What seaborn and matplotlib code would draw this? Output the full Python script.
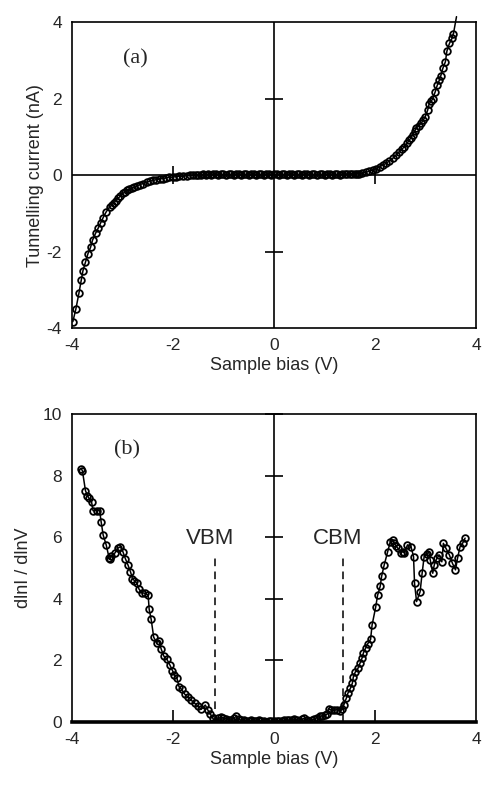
import numpy as np
import pandas as pd
import seaborn as sns
import matplotlib.pyplot as plt
from matplotlib.markers import TICKUP

sns.set_style('ticks')
plt.rcParams['font.family'] = ['Liberation Sans', 'DejaVu Sans']
plt.rcParams['axes.unicode_minus'] = False

# (a) I-V curve
iv_bias = [-3.98, -3.92, -3.86, -3.81, -3.78, -3.73, -3.68, -3.63, -3.59, -3.53,
           -3.48, -3.43, -3.38, -3.32, -3.25, -3.21, -3.17, -3.13, -3.09, -3.04,
           -2.99, -2.94, -2.90, -2.86, -2.80, -2.76, -2.72, -2.66, -2.59, -2.52,
           -2.46, -2.40, -2.33, -2.26, -2.20, -2.13, -2.07, -2.00, -1.93, -1.87,
           -1.80, -1.73, -1.67, -1.60, -1.55, -1.50, -1.45, -1.40, -1.35, -1.30,
           -1.25, -1.20, -1.15, -1.10, -1.05, -1.00, -0.95, -0.90, -0.85, -0.80,
           -0.75, -0.70, -0.65, -0.60, -0.55, -0.50, -0.45, -0.40, -0.35, -0.30,
           -0.25, -0.20, -0.15, -0.10, -0.05, 0.00, 0.05, 0.10, 0.15, 0.20,
           0.25, 0.30, 0.35, 0.40, 0.45, 0.50, 0.55, 0.60, 0.65, 0.70,
           0.75, 0.80, 0.85, 0.90, 0.95, 1.00, 1.05, 1.10, 1.15, 1.20,
           1.25, 1.30, 1.35, 1.40, 1.45, 1.50, 1.55, 1.60, 1.65, 1.69,
           1.75, 1.82, 1.88, 1.95, 2.02, 2.09, 2.15, 2.22, 2.28, 2.35,
           2.41, 2.48, 2.53, 2.58, 2.63, 2.68, 2.71, 2.74, 2.78, 2.81,
           2.86, 2.91, 2.95, 2.99, 3.04, 3.07, 3.11, 3.14, 3.19, 3.23,
           3.27, 3.30, 3.34, 3.39, 3.42, 3.47, 3.52, 3.55]
iv_current = [-3.83, -3.50, -3.09, -2.73, -2.50, -2.27, -2.05, -1.89, -1.70, -1.52,
              -1.39, -1.25, -1.11, -0.96, -0.83, -0.78, -0.72, -0.67, -0.61, -0.55,
              -0.48, -0.43, -0.40, -0.37, -0.33, -0.31, -0.29, -0.25, -0.22, -0.19,
              -0.16, -0.14, -0.12, -0.10, -0.09, -0.07, -0.06, -0.05, -0.04, -0.03,
              -0.03, -0.02, -0.01, 0.00, 0.01, 0.00, 0.01, 0.02, 0.01, 0.02,
              0.01, 0.02, 0.02, 0.01, 0.02, 0.02, 0.01, 0.02, 0.02, 0.01,
              0.02, 0.02, 0.01, 0.02, 0.02, 0.01, 0.02, 0.02, 0.01, 0.02,
              0.02, 0.01, 0.02, 0.02, 0.01, 0.02, 0.02, 0.01, 0.02, 0.02,
              0.01, 0.02, 0.02, 0.01, 0.02, 0.02, 0.01, 0.02, 0.02, 0.01,
              0.02, 0.02, 0.01, 0.02, 0.02, 0.01, 0.02, 0.02, 0.01, 0.02,
              0.02, 0.01, 0.02, 0.02, 0.03, 0.03, 0.04, 0.03, 0.04, 0.04,
              0.05, 0.07, 0.10, 0.13, 0.17, 0.22, 0.26, 0.31, 0.37, 0.44,
              0.52, 0.61, 0.68, 0.74, 0.83, 0.92, 0.98, 1.05, 1.14, 1.22,
              1.29, 1.35, 1.44, 1.52, 1.70, 1.87, 1.93, 2.00, 2.18, 2.35,
              2.48, 2.60, 2.79, 2.96, 3.24, 3.44, 3.57, 3.70]
# line continues past the top frame
iv_line_end = (3.61, 4.14)

# (b) normalised conductance
dl_bias = [-3.81, -3.79, -3.73, -3.69, -3.66, -3.61, -3.58, -3.51, -3.45, -3.42,
           -3.38, -3.32, -3.26, -3.24, -3.22, -3.15, -3.09, -3.04, -2.99, -2.94,
           -2.89, -2.84, -2.80, -2.76, -2.71, -2.67, -2.62, -2.56, -2.49, -2.47,
           -2.43, -2.38, -2.32, -2.28, -2.23, -2.18, -2.12, -2.06, -2.01, -1.97,
           -1.92, -1.88, -1.83, -1.77, -1.70, -1.64, -1.57, -1.51, -1.44, -1.36,
           -1.31, -1.26, -1.21, -1.16,
           -1.10, -1.05, -1.00, -0.95, -0.90, -0.85, -0.80, -0.75, -0.70, -0.65,
           -0.60, -0.55, -0.50, -0.45, -0.40, -0.35, -0.30, -0.25, -0.20, -0.15,
           -0.10, -0.05, 0.00, 0.05, 0.10, 0.15, 0.20, 0.25, 0.30, 0.35,
           0.40, 0.45, 0.50, 0.55, 0.60, 0.65, 0.70, 0.75, 0.80, 0.85,
           0.90, 0.95, 1.00, 1.05, 1.08, 1.12, 1.18, 1.24, 1.30, 1.35,
           1.38, 1.43, 1.46, 1.51, 1.55, 1.57, 1.61, 1.66, 1.70, 1.74,
           1.77, 1.81, 1.85, 1.91, 1.94, 2.01, 2.05, 2.10, 2.13, 2.18,
           2.25, 2.30, 2.35, 2.38, 2.42, 2.45, 2.51, 2.55, 2.58, 2.64,
           2.71, 2.76, 2.78, 2.82, 2.89, 2.93, 2.97, 3.02, 3.06, 3.09,
           3.14, 3.17, 3.22, 3.27, 3.32, 3.35, 3.40, 3.47, 3.53, 3.59,
           3.63, 3.68, 3.73, 3.78]
dl_value = [8.22, 8.15, 7.51, 7.35, 7.26, 7.15, 6.86, 6.86, 6.86, 6.50,
            6.07, 5.75, 5.31, 5.28, 5.39, 5.48, 5.64, 5.69, 5.53, 5.30,
            5.10, 4.88, 4.65, 4.59, 4.50, 4.31, 4.20, 4.18, 4.12, 3.66,
            3.33, 2.75, 2.58, 2.64, 2.36, 2.14, 2.04, 1.85, 1.67, 1.53,
            1.42, 1.15, 1.06, 0.91, 0.80, 0.71, 0.61, 0.52, 0.41, 0.55,
            0.39, 0.26, 0.12, 0.01,
            0.12, 0.15, 0.14, 0.10, 0.08, 0.06, 0.12, 0.18, 0.10, 0.05,
            0.08, 0.04, 0.03, 0.06, 0.02, 0.03, 0.05, 0.02, 0.04, 0.01,
            0.03, 0.02, 0.03, 0.02, 0.04, 0.03, 0.05, 0.07, 0.05, 0.08,
            0.10, 0.06, 0.04, 0.09, 0.12, 0.08, 0.04, 0.06, 0.10, 0.14,
            0.18, 0.20, 0.22, 0.25, 0.41, 0.40, 0.38, 0.40, 0.36, 0.41,
            0.55, 0.77, 0.93, 1.09, 1.26, 1.47, 1.63, 1.74, 1.91, 2.07,
            2.25, 2.39, 2.53, 2.68, 3.15, 3.72, 4.12, 4.40, 4.74, 5.10,
            5.53, 5.85, 5.91, 5.80, 5.70, 5.64, 5.50, 5.53, 5.48, 5.75,
            5.69, 5.37, 4.50, 3.91, 4.23, 4.83, 5.37, 5.45, 5.53, 5.26,
            4.83, 5.10, 5.31, 5.42, 5.20, 5.80, 5.64, 5.42, 5.15, 4.94,
            5.31, 5.69, 5.80, 5.97]

band_edges = {'VBM': -1.16, 'CBM': 1.37}
band_line_top = 5.45
band_label_pos = {'VBM': (-1.27, 5.97), 'CBM': (1.26, 5.97)}

xticks = [-4, -2, 0, 2, 4]
top_yticks = [-4, -2, 0, 2, 4]
bot_yticks = [0, 2, 4, 6, 8, 10]

fig = plt.figure(figsize=(4.82, 7.87), dpi=100)
ax1 = fig.add_axes([0.149, 0.583, 0.839, 0.389])
ax2 = fig.add_axes([0.149, 0.0826, 0.839, 0.3914])

mk = dict(marker='o', markersize=4.8, markerfacecolor='none',
          markeredgecolor='black', markeredgewidth=1.3)

# ---- panel (a)
ax1.axhline(0, color='black', lw=1.2, zorder=1)
ax1.axvline(0, color='black', lw=1.2, zorder=1)
ax1.plot([t for t in xticks if t not in (-4, 0, 4)], [0, 0], ls='none',
         marker='|', ms=13, mew=1.2, color='black', zorder=1)
ax1.plot([0, 0], [t for t in top_yticks if t not in (-4, 0, 4)], ls='none',
         marker='_', ms=13, mew=1.2, color='black', zorder=1)
ax1.plot([iv_bias[-1], iv_line_end[0]], [iv_current[-1], iv_line_end[1]],
         color='black', lw=1.1, clip_on=False)
sns.lineplot(x=iv_bias, y=iv_current, ax=ax1, color='black', lw=1.1,
             estimator=None, sort=False, zorder=3, **mk)
ax1.set_xlim(-4, 4)
ax1.set_ylim(-4, 4)
ax1.set_xticks(xticks)
ax1.set_yticks(top_yticks)
ax1.set_xlabel('Sample bias (V)', fontsize=13, labelpad=3)
ax1.set_ylabel('Tunnelling current (nA)', fontsize=13, labelpad=2)
ax1.text(-2.75, 3.05, '(a)', family=['Liberation Serif'], fontsize=16,
         ha='center', va='center')

# ---- panel (b)
ax2.axvline(0, color='black', lw=1.2, zorder=1)
ax2.plot([t for t in xticks if t not in (-4, 0, 4)], [0, 0], ls='none',
         marker=TICKUP, ms=9, mew=1.2, color='black', zorder=1)
ax2.plot([0] * 5, bot_yticks[1:], ls='none', marker='_', ms=13, mew=1.2,
         color='black', zorder=1, clip_on=False)
for name, xe in band_edges.items():
    ax2.plot([xe, xe], [0, band_line_top], color='black', lw=1.1,
             ls=(0, (5, 3.5)), zorder=1)
    tx, ty = band_label_pos[name]
    ax2.text(tx, ty, name, fontsize=16, ha='center', va='center')
sns.lineplot(x=dl_bias, y=dl_value, ax=ax2, color='black', lw=1.1,
             estimator=None, sort=False, zorder=3, **mk)
ax2.set_xlim(-4, 4)
ax2.set_ylim(0, 10)
ax2.set_xticks(xticks)
ax2.set_yticks(bot_yticks)
ax2.set_xlabel('Sample bias (V)', fontsize=13, labelpad=3)
ax2.set_ylabel('dlnI / dlnV', fontsize=13, labelpad=8)
ax2.text(-2.9, 8.85, '(b)', family=['Liberation Serif'], fontsize=16,
         ha='center', va='center')

for ax in (ax1, ax2):
    ax.tick_params(length=0, labelsize=12.5, pad=7)
    for s in ax.spines.values():
        s.set_linewidth(1.2)
        s.set_color('black')
ax2.spines['bottom'].set_linewidth(2.6)

fig.savefig('out.png', dpi=100)
